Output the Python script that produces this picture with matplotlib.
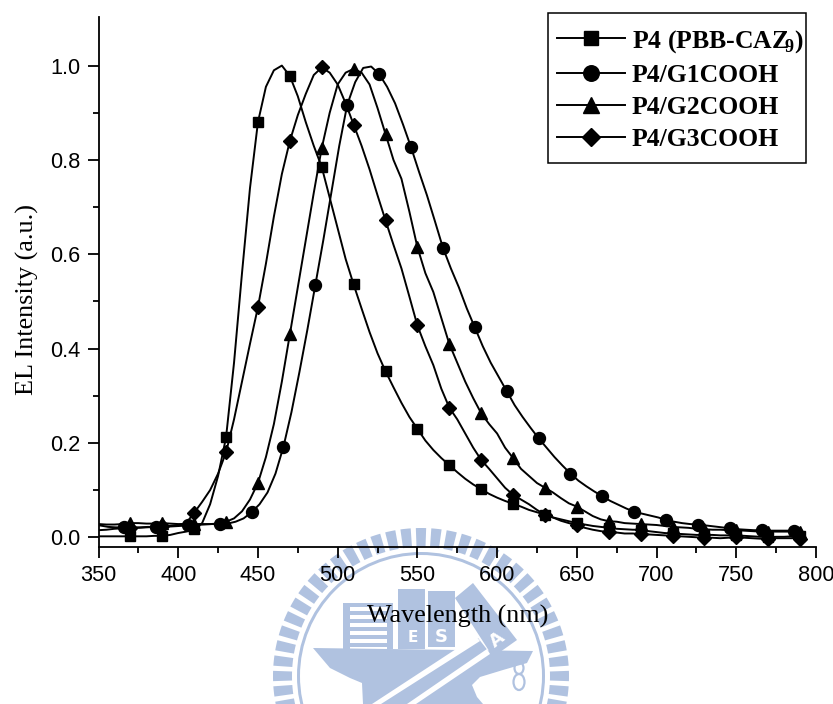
# %% Imports
import matplotlib
matplotlib.use('Agg')
import matplotlib.pyplot as plt
import numpy as np
from matplotlib.patches import Circle, Wedge, Rectangle, Polygon, Ellipse

plt.rcParams['mathtext.fontset'] = 'custom'
plt.rcParams['mathtext.bf'] = 'Liberation Serif:bold'
plt.rcParams['mathtext.rm'] = 'Liberation Serif'

# %% Data (5 nm grid, marker every 20 nm)
wl_p4 = list(range(350, 795, 5))
p4 = [.002, .002, .002, .002, .002, .002, .002, .003, .003, .005, .009, .012, .017, .03, .07, .13,
      .212, .37, .56, .74, .88, .955, .99, 1.0, .978, .935, .88, .83, .785, .72, .655, .59,
      .536, .485, .435, .39, .352, .318, .285, .255, .23, .205, .185, .168, .153, .138, .124, .112,
      .102, .092, .084, .077, .071, .065, .058, .053, .048, .042, .038, .034, .03, .027, .024, .022,
      .02, .018, .017, .016, .016, .013, .011, .009, .008, .007, .006, .005, .005, .005, .004, .004,
      .004, .003, .002, .001, .0, .001, .001, .002, .002]

wl_g1 = list(range(351, 795, 5))
g1 = [.025, .022, .021, .021, .021, .021, .022, .022, .022, .023, .024, .025, .026, .027, .028, .028,
      .029, .033, .04, .053, .07, .095, .135, .192, .265, .35, .44, .535, .63, .73, .83, .917,
      .965, .995, .998, .982, .955, .92, .875, .827, .775, .725, .67, .614, .57, .53, .485, .445,
      .405, .37, .34, .31, .28, .255, .232, .21, .19, .17, .152, .135, .12, .108, .097, .087,
      .077, .069, .061, .054, .05, .046, .042, .037, .033, .03, .028, .027, .025, .023, .021, .019,
      .017, .016, .015, .015, .014, .014, .014, .014, .014]

wl_g2 = list(range(350, 795, 5))
g2 = [.028, .027, .027, .028, .03, .03, .029, .029, .03, .029, .028, .028, .028, .028, .028, .029,
      .033, .04, .055, .08, .115, .17, .24, .33, .43, .53, .63, .73, .825, .9, .96, .985,
      .993, .985, .96, .91, .855, .8, .76, .69, .615, .56, .52, .465, .41, .37, .33, .295,
      .263, .24, .22, .19, .168, .145, .13, .115, .105, .095, .083, .072, .065, .055, .045, .038,
      .034, .033, .03, .029, .028, .027, .026, .024, .022, .021, .02, .018, .017, .016, .016, .015,
      .015, .014, .013, .012, .012, .012, .012, .012, .012]

wl_g3 = list(range(350, 795, 5))
g3 = [.015, .016, .018, .019, .02, .02, .021, .022, .023, .024, .026, .03, .052, .075, .1, .135,
      .18, .25, .33, .41, .488, .58, .68, .77, .84, .895, .94, .98, .996, .985, .96, .92,
      .875, .83, .78, .725, .672, .62, .57, .51, .449, .405, .365, .315, .275, .25, .22, .19,
      .164, .145, .125, .105, .09, .08, .07, .058, .048, .042, .035, .03, .025, .02, .016, .013,
      .011, .01, .008, .008, .007, .006, .005, .004, .003, .002, .001, .0, -.001, -.001, -.002, -.001, .0,
      -.001, -.002, -.003, -.003, -.002, -.002, -.002, -.003]

labels = ['P4 (PBB-CAZ$\\!_{\\mathbf{9}}$)', 'P4/G1COOH', 'P4/G2COOH', 'P4/G3COOH']
x_ticks = [350, 400, 450, 500, 550, 600, 650, 700, 750, 800]
y_ticks = [0.0, 0.2, 0.4, 0.6, 0.8, 1.0]

# %% Figure
W, H = 833, 704
fig = plt.figure(figsize=(W / 100, H / 100), dpi=100)

# %% Watermark behind the chart, in pixel coordinates
logo = '#b0c2e0'
bg = fig.add_axes([0, 0, 1, 1], zorder=0)
bg.set_xlim(0, W)
bg.set_ylim(H, 0)
bg.axis('off')
cx, cy = 421, 676
for a in np.arange(0, 360, 6):
    bg.add_patch(Wedge((cx, cy), 148, a - 2, a + 2, width=19, color=logo, lw=0))
bg.add_patch(Circle((cx, cy), 124, color=logo, lw=0))
bg.add_patch(Circle((cx, cy), 121, color='white', lw=0))
# building
bg.add_patch(Rectangle((343, 603), 50, 46, color=logo, lw=0))
for yy in range(607, 648, 8):
    bg.add_patch(Rectangle((350, yy), 37, 3.5, color='white', lw=0))
bg.add_patch(Rectangle((398, 589), 27, 60, color=logo, lw=0))
bg.add_patch(Rectangle((428, 591), 27, 56, color=logo, lw=0))
bg.add_patch(Polygon([[455, 598], [473, 583], [517, 640], [493, 657]], color=logo, lw=0))
# anvil
bg.add_patch(Polygon([[313, 648], [533, 651], [527, 663], [503, 670], [480, 677], [472, 685],
                      [477, 697], [483, 704], [363, 704], [362, 683], [350, 678], [330, 668]],
                     color=logo, lw=0))
# hammer handle between two white lines
bg.add_patch(Polygon([[478, 638], [489, 652], [420, 700], [380, 700]], color=logo, lw=0))
bg.add_patch(Polygon([[476, 636], [480, 641], [381, 704], [372, 704]], color='white', lw=0))
bg.add_patch(Polygon([[487, 649], [490, 654], [416, 704], [407, 704]], color='white', lw=0))
bg.add_patch(Ellipse((519, 668), 9, 12, fill=False, ec=logo, lw=1.6))
bg.add_patch(Ellipse((519, 682), 11, 16, fill=False, ec=logo, lw=1.6))
bg.text(413, 637, 'E', color='white', fontsize=11, fontweight='bold', ha='center', va='center')
bg.text(441, 637, 'S', color='white', fontsize=13, fontweight='bold', ha='center', va='center')
bg.text(497, 640, 'A', color='white', fontsize=13, fontweight='bold', ha='center', va='center', rotation=38)
bg.add_patch(Rectangle((548, 13), 258, 150, fill=False, ec='k', lw=1.1))

# %% Chart
ax = fig.add_axes([98.5 / W, 1 - 546.7 / H, (816 - 98.5) / W, (546.7 - 17) / H], zorder=1)
ax.patch.set_alpha(0)
ax.plot(wl_p4, p4, 'k-', marker='s', ms=7.8, lw=1.4, markevery=(4, 4), label=labels[0])
ax.plot(wl_g1, g1, 'k-', marker='o', ms=8.6, lw=1.4, markevery=(3, 4), label=labels[1])
ax.plot(wl_g2, g2, 'k-', marker='^', ms=9, lw=1.4, markevery=(4, 4), label=labels[2])
ax.plot(wl_g3, g3, 'k-', marker='D', ms=7, lw=1.4, markevery=(4, 4), label=labels[3])

ax.set_xlim(350, 800)
ax.set_ylim(-0.02, 1.103)
ax.set_xticks(x_ticks)
ax.set_xticks(np.arange(375, 800, 50), minor=True)
ax.set_yticks(y_ticks)
ax.set_yticks(np.arange(0.1, 1.1, 0.2), minor=True)
ax.spines['top'].set_visible(False)
ax.spines['right'].set_visible(False)
ax.spines['left'].set_linewidth(1.3)
ax.spines['bottom'].set_linewidth(1.3)
ax.tick_params(which='major', length=8, width=1.3, labelsize=15.7, pad=5)
ax.tick_params(which='minor', length=4, width=1.3)
ax.set_xticklabels([str(v) for v in x_ticks], family='Liberation Sans')
ax.set_yticklabels(['%.1f' % v for v in y_ticks], family='Liberation Sans')
ax.set_xlabel('Wavelength (nm)', family='Liberation Serif', fontsize=18.8, labelpad=14)
ax.set_ylabel('EL Intensity (a.u.)', family='Liberation Serif', fontsize=18.8, labelpad=8, y=0.466)

# %% Legend
leg = ax.legend(loc='upper left', bbox_to_anchor=((548 - 98.5) / (816 - 98.5), (546.7 - 19) / (546.7 - 17)),
                prop={'family': 'Liberation Serif', 'weight': 'bold', 'size': 18.5},
                frameon=False, handlelength=2.65, handletextpad=0.25, labelspacing=0.35,
                borderpad=0.35, borderaxespad=0, markerscale=1.3, numpoints=1)

fig.savefig('out.png', dpi=100)
